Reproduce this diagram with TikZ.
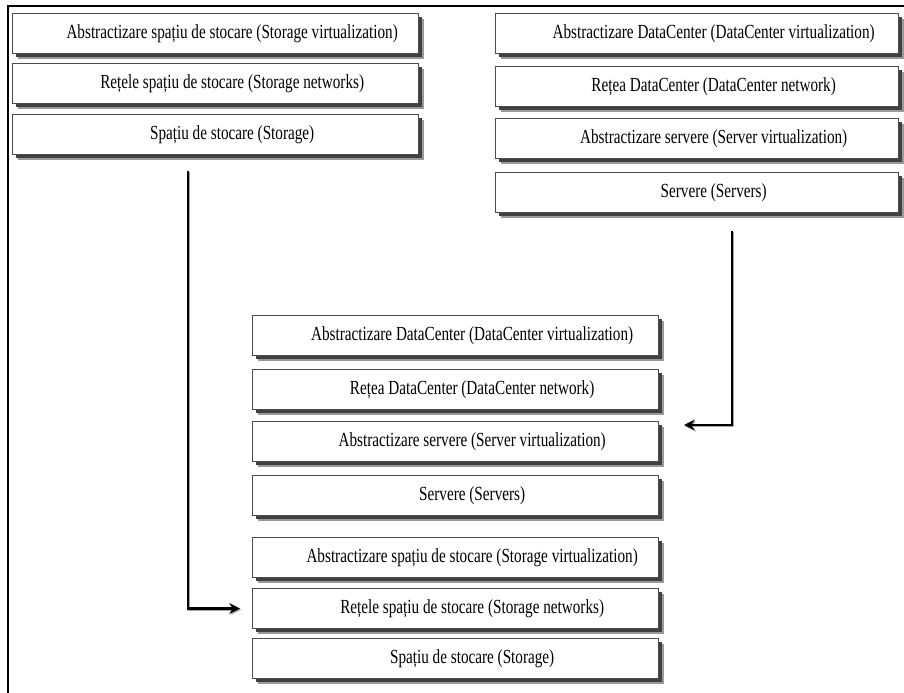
\documentclass[tikz,border=0pt]{standalone}
\usepackage{fontspec}
\setmainfont{Liberation Serif}[FakeStretch=0.76]
\usetikzlibrary{shadows,arrows.meta}
\newcommand\boxtxt[1]{\hspace*{25pt}#1}
\tikzset{
  layerbox/.style={draw=black!70, line width=0.75pt, fill=white,
    minimum width=#1, minimum height=30pt, anchor=north west, inner sep=0pt,
    font=\fontsize{15}{17}\selectfont,
    drop shadow={shadow xshift=3.75pt, shadow yshift=-3.75pt, fill=black!40, opacity=1},
    drop shadow={shadow xshift=2.25pt, shadow yshift=-2.25pt, fill=black!75, opacity=1}},
  layerbox/.default=304.5pt,
  flow/.style={line width=1.8pt, -{Stealth[length=8pt,width=8pt]},
    preaction={draw=black!35, line width=1.5pt, -{Stealth[length=8pt,width=8pt]},
      transform canvas={xshift=0.9pt,yshift=-0.9pt}}},
  frame/.style={line width=1.6pt}
}
\begin{document}
\begin{tikzpicture}[x=0.75pt,y=-0.75pt]
\useasboundingbox (0,0) rectangle (904,693);
\fill[white] (0,0) rectangle (904,693);
\draw[frame] (8,693) -- (8,6) -- (904,6);
% top-left group
\node[layerbox] (a1) at (12,13) {\boxtxt{Abstractizare spațiu de stocare (Storage virtualization)}};
\node[layerbox] (a2) at (12,63) {\boxtxt{Rețele spațiu de stocare (Storage networks)}};
\node[layerbox] (a3) at (12,114) {\boxtxt{Spațiu de stocare (Storage)}};
% top-right group
\node[layerbox=302.25pt] (b1) at (495,13) {\boxtxt{Abstractizare DataCenter (DataCenter virtualization)}};
\node[layerbox=302.25pt] (b2) at (495,66) {\boxtxt{Rețea DataCenter (DataCenter network)}};
\node[layerbox=302.25pt] (b3) at (495,118) {\boxtxt{Abstractizare servere (Server virtualization)}};
\node[layerbox=302.25pt] (b4) at (495,172) {\boxtxt{Servere (Servers)}};
% middle group
\node[layerbox] (m1) at (252,315) {\boxtxt{Abstractizare DataCenter (DataCenter virtualization)}};
\node[layerbox] (m2) at (252,369) {\boxtxt{Rețea DataCenter (DataCenter network)}};
\node[layerbox] (m3) at (252,421) {\boxtxt{Abstractizare servere (Server virtualization)}};
\node[layerbox] (m4) at (252,475) {\boxtxt{Servere (Servers)}};
\node[layerbox] (m5) at (252,537) {\boxtxt{Abstractizare spațiu de stocare (Storage virtualization)}};
\node[layerbox] (m6) at (252,588) {\boxtxt{Rețele spațiu de stocare (Storage networks)}};
\node[layerbox] (m7) at (252,638) {\boxtxt{Spațiu de stocare (Storage)}};
% connectors
\coordinate (s1) at (188,171);
\coordinate (s2) at (732,231);
\coordinate (e2) at (684,425);
\draw[flow, shorten >=9pt] (s1) |- (m6.west);
\draw[flow] (s2) |- (e2);
\end{tikzpicture}
\end{document}
